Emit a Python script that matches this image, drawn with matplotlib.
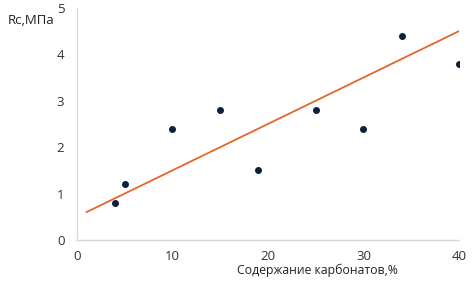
import matplotlib.pyplot as plt
import numpy as np

plt.rcParams['font.family'] = ['Open Sans', 'DejaVu Sans']

# carbonate content (%) vs strength Rc (MPa)
carb = [4, 5, 10, 15, 19, 25, 30, 34, 40]
rc = [0.8, 1.2, 2.4, 2.8, 1.5, 2.8, 2.4, 4.4, 3.8]

# trend line as drawn in the source
trend_x = [1, 40]
trend_y = [0.6, 4.5]

x_ticks = [0, 10, 20, 30, 40]
y_ticks = [0, 1, 2, 3, 4, 5]


def main():
    fig = plt.figure(figsize=(4.72, 2.82), dpi=100)
    ax = fig.add_axes([0.163, 0.149, 0.8095, 0.823])

    ax.plot(trend_x, trend_y, color='#e4662a', lw=1.3, zorder=2)
    ax.plot(carb, rc, 'o', color='#0d1f3c', ms=4, zorder=3)

    ax.set_xlim(0, 40)
    ax.set_ylim(0, 5)
    ax.set_xticks(x_ticks)
    ax.set_yticks(y_ticks)
    ax.tick_params(length=0, labelsize=9.5, colors='#333333')
    ax.tick_params(axis='x', pad=7)
    ax.tick_params(axis='y', pad=9)

    for s in ['top', 'right']:
        ax.spines[s].set_visible(False)
    for s in ['left', 'bottom']:
        ax.spines[s].set_color('#d9d9d9')
        ax.spines[s].set_linewidth(1.0)

    ax.set_xlabel('Содержание карбонатов,%', fontsize=8.8, color='#222222')
    ax.xaxis.set_label_coords(0.63, -0.1)
    fig.text(0.017, 0.915, 'Rc,МПа', fontsize=9.5, color='#222222')

    fig.savefig('out.png', dpi=100)


main()
